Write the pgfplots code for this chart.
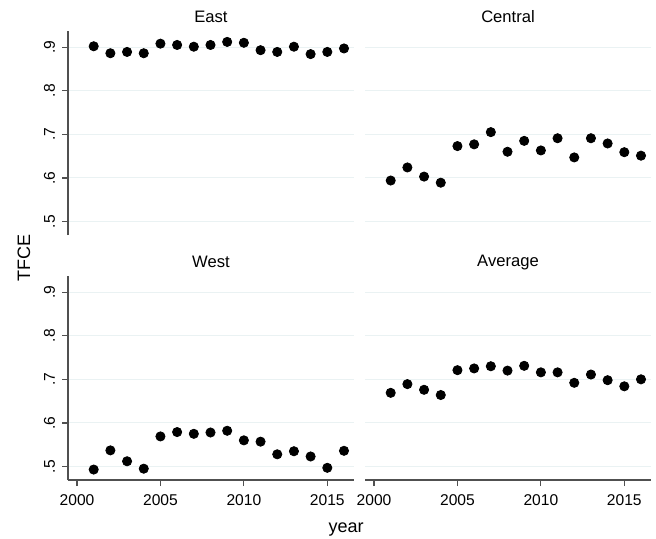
\documentclass[border=0pt]{standalone}
\usepackage{fontspec}
\setmainfont{Liberation Sans}
\usepackage{pgfplots}
\pgfplotsset{compat=1.18}
\definecolor{gridc}{HTML}{EAF2F3}
\definecolor{axc}{HTML}{505050}
\tikzset{ptitle/.style={font=\fontsize{8.3}{9.5}\selectfont, anchor=center, yshift=7pt}}
\pgfplotsset{
  panel/.style={
    scale only axis, width=143pt, height=102pt,
    xmin=1999.46, xmax=2016.6, ymin=0.469, ymax=0.937,
    axis lines*=left,
    axis line style={axc, line width=0.6pt},
    tick style={axc, line width=0.6pt},
    tick align=outside, major tick length=3pt,
    ytick={0.5,0.6,0.7,0.8,0.9},
    yticklabels={.5,.6,.7,.8,.9},
    yticklabel style={rotate=90, anchor=south, font=\fontsize{7.8}{9}\selectfont},
    xtick={2000,2005,2010,2015},
    xticklabels={2000,2005,2010,2015},
    xticklabel style={font=\fontsize{7.8}{9}\selectfont, yshift=-1pt},
    ymajorgrids, grid style={gridc, line width=0.5pt},
    clip=false,
  },
  noxaxis/.style={x axis line style={draw=none}, xtick=\empty},
  noyaxis/.style={y axis line style={draw=none}, ytick style={draw=none}, yticklabels={}},
  dots/.style={only marks, mark=*, mark size=2.3pt, black, mark options={fill=black, draw=black}},
}
\begin{document}
\begin{tikzpicture}
\useasboundingbox (0,0) rectangle (328pt,269pt);
% East
\begin{axis}[panel, noxaxis, at={(34pt,151.5pt)}, anchor=south west]
\addplot[dots] coordinates {(2001,0.902) (2002,0.886) (2003,0.889) (2004,0.886) (2005,0.908) (2006,0.905) (2007,0.901) (2008,0.905) (2009,0.912) (2010,0.910) (2011,0.893) (2012,0.889) (2013,0.901) (2014,0.884) (2015,0.889) (2016,0.897)};
\node[ptitle] at (rel axis cs:0.5,1) {East};
\end{axis}
% Central
\begin{axis}[panel, noxaxis, noyaxis, at={(182.5pt,151.5pt)}, anchor=south west]
\addplot[dots] coordinates {(2001,0.594) (2002,0.624) (2003,0.603) (2004,0.589) (2005,0.673) (2006,0.677) (2007,0.705) (2008,0.660) (2009,0.685) (2010,0.663) (2011,0.691) (2012,0.647) (2013,0.691) (2014,0.679) (2015,0.659) (2016,0.651)};
\node[ptitle] at (rel axis cs:0.5,1) {Central};
\end{axis}
% West
\begin{axis}[panel, at={(34pt,29pt)}, anchor=south west]
\addplot[dots] coordinates {(2001,0.493) (2002,0.537) (2003,0.512) (2004,0.495) (2005,0.569) (2006,0.579) (2007,0.575) (2008,0.578) (2009,0.582) (2010,0.560) (2011,0.557) (2012,0.528) (2013,0.535) (2014,0.523) (2015,0.497) (2016,0.536)};
\node[ptitle] at (rel axis cs:0.5,1) {West};
\end{axis}
% Average
\begin{axis}[panel, noyaxis, at={(182.5pt,29pt)}, anchor=south west]
\addplot[dots] coordinates {(2001,0.669) (2002,0.689) (2003,0.676) (2004,0.664) (2005,0.721) (2006,0.725) (2007,0.730) (2008,0.720) (2009,0.731) (2010,0.716) (2011,0.716) (2012,0.692) (2013,0.711) (2014,0.698) (2015,0.684) (2016,0.700)};
\node[ptitle] at (rel axis cs:0.5,1) {Average};
\end{axis}
\node[rotate=90, font=\fontsize{9}{10}\selectfont] at (12pt,140pt) {TFCE};
\node[font=\fontsize{9}{10}\selectfont] at (173pt,4pt) {year};
\end{tikzpicture}
\end{document}
